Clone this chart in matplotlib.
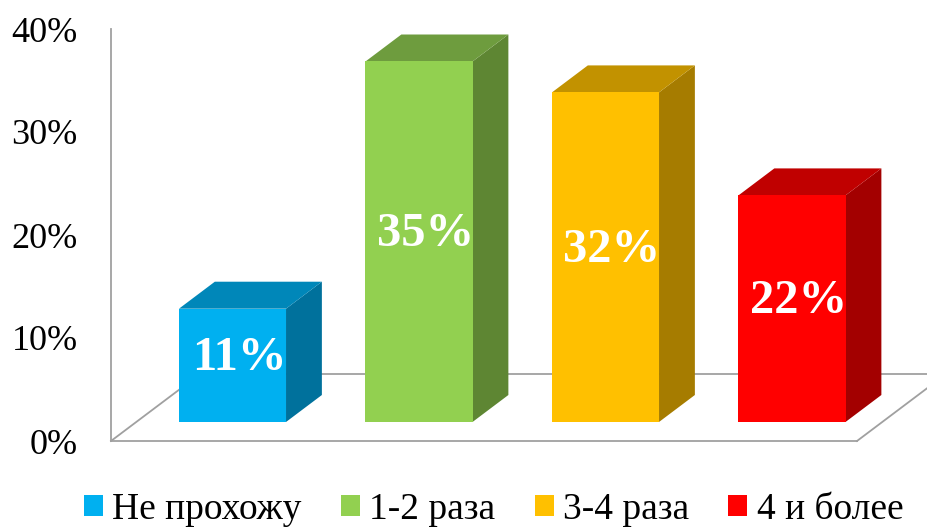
import matplotlib
matplotlib.use("Agg")
import matplotlib.pyplot as plt
from matplotlib.patches import Polygon, Rectangle

categories = ["Не прохожу", "1-2 раза", "3-4 раза", "4 и более"]
values = [11, 35, 32, 22]
labels = ["11%", "35%", "32%", "22%"]
yticks = [0, 10, 20, 30, 40]
ytick_labels = ["0%", "10%", "20%", "30%", "40%"]

front_colors = ["#00B0F0", "#92D050", "#FFC000", "#FF0000"]
top_colors = ["#0087B9", "#6E9C3E", "#C29200", "#C00000"]
side_colors = ["#00719C", "#5E8633", "#A67C00", "#A30000"]

plt.rcParams['font.family'] = ['Liberation Serif', 'DejaVu Serif']

fig = plt.figure(figsize=(9.28, 5.29), dpi=100)
W, H = 928, 529
ax = fig.add_axes([111 / W, (H - 441) / H, 746 / W, 412 / H])
x0, x1 = -0.5, 3.5
ax.set_xlim(x0, x1)
ax.set_ylim(0, 40)

# depth vector (data units) for full floor depth
Dx, Dy = 0.477, 6.5
f0, f1 = 0.284, 0.687
w = 0.574
shift = 0.016

line_c = "#A0A0A0"
lw = 1.3
# floor
ax.plot([x0, x1], [0, 0], color=line_c, lw=lw, clip_on=False, zorder=1)
ax.plot([x0, x0 + Dx], [0, Dy], color=line_c, lw=lw, clip_on=False, zorder=1)
ax.plot([x1, x1 + Dx], [0, Dy], color=line_c, lw=lw, clip_on=False, zorder=1)
ax.plot([x0 + Dx, x1 + Dx], [Dy, Dy], color=line_c, lw=lw, clip_on=False, zorder=1)
# left wall edge
ax.plot([x0, x0], [0, 40], color=line_c, lw=lw, clip_on=False, zorder=1)

for i, v in enumerate(values):
    fl = i - w / 2 + f0 * Dx + shift
    fr = i + w / 2 + f0 * Dx + shift
    fb = f0 * Dy
    bdx = (f1 - f0) * Dx
    bdy = (f1 - f0) * Dy
    front = Polygon([(fl, fb), (fr, fb), (fr, fb + v), (fl, fb + v)],
                    closed=True, facecolor=front_colors[i], edgecolor='none',
                    clip_on=False, zorder=3)
    top = Polygon([(fl, fb + v), (fr, fb + v), (fr + bdx, fb + v + bdy), (fl + bdx, fb + v + bdy)],
                  closed=True, facecolor=top_colors[i], edgecolor='none',
                  clip_on=False, zorder=3)
    side = Polygon([(fr, fb), (fr + bdx, fb + bdy), (fr + bdx, fb + v + bdy), (fr, fb + v)],
                   closed=True, facecolor=side_colors[i], edgecolor='none',
                   clip_on=False, zorder=3)
    for p in (side, top, front):
        ax.add_patch(p)
    ax.text(i + f0 * Dx + shift + 0.035, (f0 + f1) / 2 * Dy + v / 2 - 0.6, labels[i],
            ha='center', va='center', color='white', fontsize=35,
            fontweight='bold', zorder=5)

ax.set_yticks(yticks)
ax.set_yticklabels(ytick_labels)
ax.set_xticks([])
ax.tick_params(axis='y', length=0, pad=24, labelsize=26)
for s in ax.spines.values():
    s.set_visible(False)
ax.patch.set_alpha(0)

handles = [Rectangle((0, 0), 1, 1, facecolor=c, edgecolor='none') for c in front_colors]
fig.legend(handles, categories, loc='center', bbox_to_anchor=(0.532, 0.037),
           ncol=4, frameon=False, fontsize=27, handlelength=0.5, handleheight=0.5,
           handletextpad=0.25, columnspacing=1.05, borderpad=0, borderaxespad=0)

fig.savefig("out.png", dpi=100)
